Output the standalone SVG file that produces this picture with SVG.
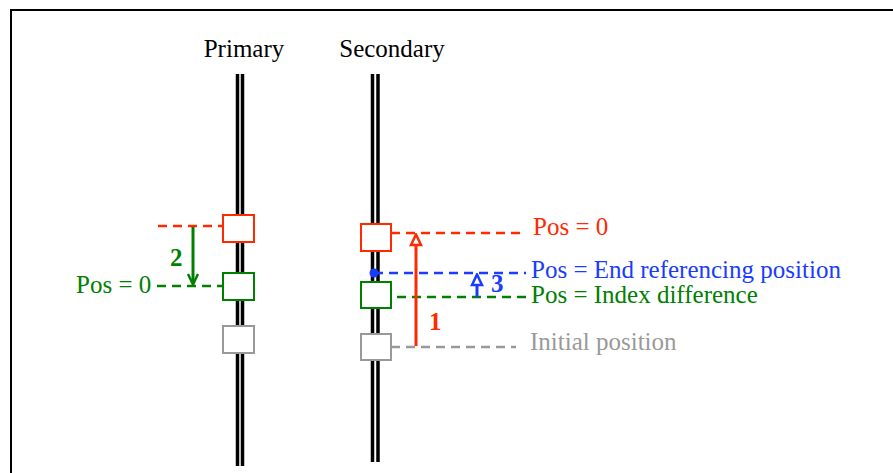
<svg xmlns="http://www.w3.org/2000/svg" width="893" height="473" viewBox="0 0 893 473">
<defs>
<style>
text{font-family:"Liberation Serif","Times New Roman",serif;font-size:25px}
.rail{stroke:#000;stroke-width:3.5;fill:none}
.box{fill:#fff;stroke-width:2}
.dash{stroke-width:2.5;stroke-dasharray:9 6;fill:none}
.arr{stroke-width:3;fill:none}
.lbl{font-weight:bold;font-size:25px}
</style>
<marker id="ahR" markerWidth="14" markerHeight="14" refX="7" refY="2" orient="0" markerUnits="userSpaceOnUse" viewBox="0 0 14 14">
<path d="M2,12 L7,1.5 L12,12 Z" fill="#fff" stroke="#ff2a00" stroke-width="2.5"/>
</marker>
<marker id="ahG" markerWidth="14" markerHeight="14" refX="7" refY="12" orient="0" markerUnits="userSpaceOnUse" viewBox="0 0 14 14">
<path d="M2,2 L7,12.5 L12,2" fill="none" stroke="#008000" stroke-width="2.5"/>
</marker>
<marker id="ahB" markerWidth="14" markerHeight="14" refX="7" refY="2" orient="0" markerUnits="userSpaceOnUse" viewBox="0 0 14 14">
<path d="M2,12 L7,1.5 L12,12 Z" fill="#fff" stroke="#1a3cff" stroke-width="2.5"/>
</marker>
</defs>
<rect x="0" y="0" width="893" height="473" fill="#fff"/>
<path d="M11,480 V10 H900" stroke="#000" stroke-width="2" fill="none"/>

<g id="primary">
<text x="244" y="57" text-anchor="middle">Primary</text>
<line class="rail" x1="237.5" y1="74" x2="237.5" y2="466"/>
<line class="rail" x1="242.5" y1="74" x2="242.5" y2="466"/>
<rect class="box" x="223" y="215" width="31" height="27" stroke="#ff2a00"/>
<rect class="box" x="223" y="273" width="31" height="27" stroke="#008000"/>
<rect class="box" x="223" y="326" width="31" height="27" stroke="#999"/>
</g>

<g id="secondary">
<text x="392" y="57" text-anchor="middle">Secondary</text>
<line class="rail" x1="372.5" y1="74" x2="372.5" y2="462"/>
<line class="rail" x1="378" y1="74" x2="378" y2="462"/>
<rect class="box" x="361" y="224" width="30" height="27" stroke="#ff2a00"/>
<rect class="box" x="361" y="282" width="30" height="26" stroke="#008000"/>
<rect class="box" x="361" y="334" width="30" height="26" stroke="#999"/>
</g>

<g id="connectors">
<line class="dash" x1="158" y1="226" x2="223" y2="226" stroke="#ff2a00"/>
<line class="dash" x1="157" y1="286" x2="223" y2="286" stroke="#008000"/>
<line class="arr" x1="193" y1="227" x2="193" y2="284" stroke="#008000" marker-end="url(#ahG)"/>

<line class="dash" x1="391" y1="233" x2="520" y2="233" stroke="#ff2a00"/>
<line class="dash" x1="374" y1="273" x2="526" y2="273" stroke="#1a3cff"/>
<circle cx="374" cy="273" r="4.5" fill="#1a3cff"/>
<line class="dash" x1="397" y1="297" x2="526" y2="297" stroke="#008000"/>
<line class="dash" x1="391" y1="347" x2="516" y2="347" stroke="#999"/>
<line class="arr" x1="416" y1="346" x2="416" y2="235" stroke="#ff2a00" marker-end="url(#ahR)"/>
<line class="arr" x1="477" y1="297" x2="477" y2="275" stroke="#1a3cff" marker-end="url(#ahB)"/>
</g>

<g id="labels">
<text class="lbl" x="170" y="266" fill="#008000">2</text>
<text class="lbl" x="429" y="330" fill="#ff2a00">1</text>
<text class="lbl" x="491" y="292" fill="#1a3cff">3</text>
<text x="76" y="293" fill="#008000">Pos = 0</text>
<text x="533" y="235" fill="#ff2a00">Pos = 0</text>
<text x="531" y="278" fill="#1a3cff">Pos = End referencing position</text>
<text x="531" y="303" fill="#008000">Pos = Index difference</text>
<text x="530" y="350" fill="#999">Initial position</text>
</g>
</svg>
